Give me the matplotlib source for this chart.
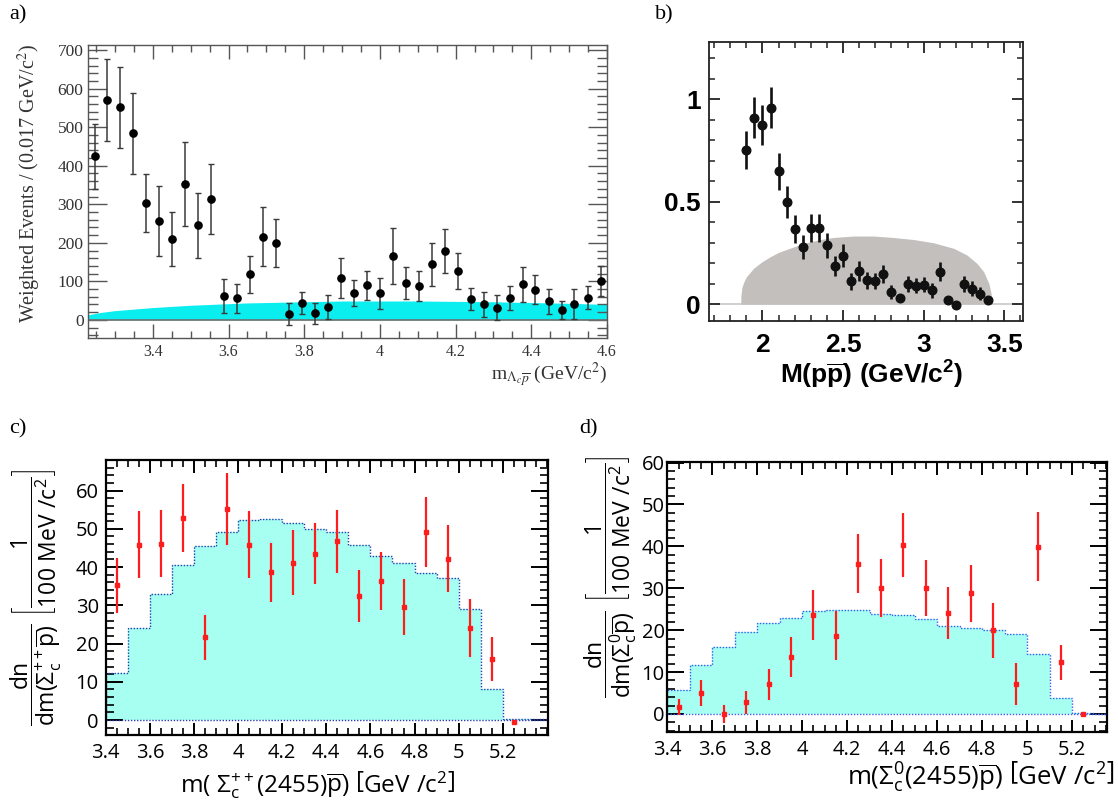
import matplotlib
matplotlib.use("Agg")
import matplotlib.pyplot as plt
from matplotlib.ticker import MultipleLocator, FixedLocator, FuncFormatter

plt.rcParams['mathtext.fontset'] = 'custom'
plt.rcParams['mathtext.rm'] = 'Open Sans'
plt.rcParams['mathtext.it'] = 'Open Sans:italic'
plt.rcParams['mathtext.bf'] = 'Liberation Sans:bold'
plt.rcParams['mathtext.sf'] = 'Open Sans'

# ---------------- data ----------------
# panel a
a_x = [3.246, 3.280, 3.314, 3.348, 3.383, 3.417, 3.451, 3.486, 3.520, 3.554,
       3.589, 3.623, 3.657, 3.691, 3.726, 3.760, 3.794, 3.829, 3.863, 3.897,
       3.931, 3.966, 4.000, 4.034, 4.069, 4.103, 4.137, 4.171, 4.206, 4.240,
       4.274, 4.309, 4.343, 4.377, 4.411, 4.446, 4.480, 4.514, 4.549, 4.583]
a_y = [424, 571, 552, 484, 303, 257, 211, 353, 245, 314,
       62, 56, 118, 216, 199, 16, 44, 17, 34, 109,
       70, 90, 69, 166, 95, 88, 144, 178, 127, 55,
       40, 32, 57, 92, 78, 48, 26, 41, 58, 101]
a_err = [85, 106, 105, 105, 76, 90, 70, 109, 84, 90,
         45, 37, 49, 77, 63, 29, 29, 28, 31, 52,
         34, 38, 40, 73, 42, 38, 55, 57, 47, 29,
         32, 33, 31, 46, 38, 33, 24, 39, 29, 39]
a_bkg_x = [3.228, 3.26, 3.30, 3.35, 3.40, 3.45, 3.50, 3.55, 3.60, 3.65, 3.70,
           3.75, 3.80, 3.85, 3.90, 4.00, 4.10, 4.20, 4.30, 4.40, 4.50, 4.60]
a_bkg_y = [13, 19, 24, 28, 32, 35, 38, 40, 42, 44, 45,
           46, 47, 48, 49, 49, 49, 48, 47, 45, 43, 40]

# panel b
b_x = [1.90, 1.95, 2.00, 2.05, 2.10, 2.15, 2.20, 2.25, 2.30, 2.35, 2.40,
       2.45, 2.50, 2.55, 2.60, 2.65, 2.70, 2.75, 2.80, 2.85, 2.90, 2.95,
       3.00, 3.05, 3.10, 3.15, 3.20, 3.25, 3.30, 3.35, 3.40]
b_y = [0.751, 0.909, 0.872, 0.959, 0.647, 0.498, 0.366, 0.278, 0.372, 0.372, 0.286,
       0.187, 0.236, 0.112, 0.163, 0.117, 0.112, 0.146, 0.057, 0.031, 0.099, 0.089,
       0.094, 0.067, 0.159, 0.018, -0.003, 0.099, 0.076, 0.050, 0.018]
b_err = [0.094, 0.100, 0.097, 0.100, 0.088, 0.078, 0.068, 0.060, 0.068, 0.068, 0.060,
         0.050, 0.057, 0.042, 0.049, 0.041, 0.040, 0.043, 0.034, 0.020, 0.038, 0.036,
         0.036, 0.037, 0.046, 0.015, 0.012, 0.038, 0.035, 0.031, 0.012]
b_ps_x = [1.865, 1.866, 1.872, 1.885, 1.90, 1.944, 1.996, 2.048, 2.099, 2.151, 2.255,
          2.358, 2.44, 2.565, 2.69, 2.81, 2.938, 3.062, 3.186, 3.269, 3.331, 3.372,
          3.404, 3.418, 3.426]
b_ps_y = [0.0, 0.04, 0.08, 0.11, 0.133, 0.174, 0.206, 0.231, 0.252, 0.267, 0.296,
          0.315, 0.325, 0.332, 0.332, 0.325, 0.315, 0.299, 0.272, 0.239, 0.198, 0.158,
          0.101, 0.052, 0.0]

# panels c, d
cd_x = [3.45, 3.55, 3.65, 3.75, 3.85, 3.95, 4.05, 4.15, 4.25, 4.35,
        4.45, 4.55, 4.65, 4.75, 4.85, 4.95, 5.05, 5.15, 5.25]
hist_edges = [3.4, 3.5, 3.6, 3.7, 3.8, 3.9, 4.0, 4.1, 4.2, 4.3, 4.4,
              4.5, 4.6, 4.7, 4.8, 4.9, 5.0, 5.1, 5.2, 5.3, 5.4]
c_y = [35.2, 45.9, 46.1, 52.8, 21.6, 55.2, 45.9, 38.6, 41.2, 43.5,
       46.7, 32.5, 36.3, 29.6, 49.1, 42.2, 24.0, 16.0, -0.4]
c_err = [7.1, 8.7, 8.7, 8.8, 5.9, 9.5, 8.7, 7.8, 8.4, 8.0,
         8.2, 6.8, 7.6, 7.3, 9.1, 8.8, 7.6, 5.8, 0.2]
c_hist = [12.2, 24.2, 32.9, 40.5, 45.6, 49.1, 52.3, 52.7, 51.5, 50.0,
          49.3, 45.9, 42.9, 41.2, 38.4, 37.2, 29.1, 8.1, 0.4, 0.2]
d_y = [1.7, 4.9, 0.0, 2.8, 7.1, 13.6, 23.6, 18.7, 35.9, 30.1,
       40.3, 30.0, 24.1, 28.8, 20.0, 7.1, 39.9, 12.3, 0.0]
d_err = [1.9, 3.1, 2.2, 2.8, 3.75, 4.7, 6.0, 5.9, 7.1, 7.0,
         7.6, 6.7, 6.2, 6.8, 6.6, 5.0, 8.2, 4.1, 0.3]
d_hist = [5.7, 11.7, 16.1, 19.6, 21.8, 23.0, 24.6, 24.7, 24.8, 23.8,
          23.5, 22.6, 21.0, 20.4, 20.0, 19.1, 14.2, 3.9, 0.15, 0.1]

a_xticks = [3.4, 3.6, 3.8, 4.0, 4.2, 4.4, 4.6]
a_yticks = [0, 100, 200, 300, 400, 500, 600, 700]
b_xticks = [2.0, 2.5, 3.0, 3.5]
b_yticks = [0.0, 0.5, 1.0]
cd_xticks = [3.4, 3.6, 3.8, 4.0, 4.2, 4.4, 4.6, 4.8, 5.0, 5.2]
cd_yticks = [0, 10, 20, 30, 40, 50, 60]

# ---------------- figure ----------------
W, H = 1118, 805
fig = plt.figure(figsize=(W / 100, H / 100), dpi=100)


def rect(l, r, t, b):
    return [l / W, 1 - b / H, (r - l) / W, (b - t) / H]


fmt_g = FuncFormatter(lambda v, p: f"{v:g}")

# ---------- panel a ----------
serif = 'Liberation Serif'
axa = fig.add_axes(rect(87.7, 607, 44.7, 338))
axa.fill_between(a_bkg_x, 0, a_bkg_y, color='#0aeef0', lw=0, zorder=1)
axa.axhline(0, color='#707070', lw=1.2, zorder=2)
axa.errorbar(a_x, a_y, yerr=a_err, fmt='o', ms=5.2, color='black',
             ecolor='#3a3a3a', elinewidth=1.1, capsize=2.2, capthick=1.0, zorder=3)
axa.set_xlim(3.228, 4.6)
axa.set_ylim(-47, 714)
axa.xaxis.set_major_locator(FixedLocator(a_xticks))
axa.yaxis.set_major_locator(FixedLocator(a_yticks))
axa.xaxis.set_minor_locator(MultipleLocator(0.05))
axa.yaxis.set_minor_locator(MultipleLocator(20))
axa.xaxis.set_major_formatter(fmt_g)
axa.tick_params(which='both', direction='in', top=True, right=True, color='#555555')
axa.tick_params(axis='y', which='major', length=14, width=1.0, pad=3)
axa.tick_params(axis='y', which='minor', length=7, width=1.0)
axa.tick_params(axis='x', which='major', length=10, width=1.0, pad=4)
axa.tick_params(axis='x', which='minor', length=5, width=1.0)
for lab in axa.get_yticklabels():
    lab.set_fontfamily(serif)
    lab.set_fontsize(12.5)
    lab.set_color('#333333')
for lab in axa.get_xticklabels():
    lab.set_fontfamily(serif)
    lab.set_fontsize(11.5)
    lab.set_color('#333333')
for s in axa.spines.values():
    s.set_color('#555555')
    s.set_linewidth(1.0)
fig.text(29 / W, 1 - 44 / H, 'Weighted Events / (0.017 GeV/c$^{2}$)', rotation=90,
         ha='center', va='top', fontsize=14.5, family=serif, color='#333333',
         math_fontfamily='stix')
fig.text(607 / W, 1 - 380 / H, r'm$_{\Lambda_{c}\overline{p}}$ (GeV/c$^{2}$)',
         ha='right', va='baseline', fontsize=14, family=serif, color='#333333',
         math_fontfamily='stix')
fig.text(18 / W, 1 - 15 / H, 'a)', ha='center', va='center', fontsize=16, family=serif)

# ---------- panel b ----------
sansb = 'Liberation Sans'
axb = fig.add_axes(rect(709.3, 1023, 41.7, 320.7))
axb.hlines(0, 1.72, 3.59, color='#c8c8c8', lw=1.2, zorder=1)
axb.fill_between(b_ps_x, 0, b_ps_y, color='#c3bfbd', lw=0, zorder=1)
axb.errorbar(b_x, b_y, yerr=b_err, fmt='o', ms=6.2, color='#111111',
             ecolor='#111111', elinewidth=1.9, capsize=0, zorder=3)
axb.set_xlim(1.67, 3.616)
axb.set_ylim(-0.081, 1.28)
axb.xaxis.set_major_locator(FixedLocator(b_xticks))
axb.yaxis.set_major_locator(FixedLocator(b_yticks))
axb.xaxis.set_minor_locator(MultipleLocator(0.1))
axb.yaxis.set_minor_locator(MultipleLocator(0.1))
axb.xaxis.set_major_formatter(fmt_g)
axb.yaxis.set_major_formatter(fmt_g)
axb.tick_params(which='both', direction='in', top=True, right=True, color='#222222')
axb.tick_params(which='major', length=8, width=1.3)
axb.tick_params(which='minor', length=4.5, width=1.1)
axb.tick_params(axis='y', which='major', pad=6)
axb.tick_params(axis='x', which='major', pad=9)
for lab in axb.get_xticklabels() + axb.get_yticklabels():
    lab.set_fontfamily(sansb)
    lab.set_fontweight('bold')
    lab.set_fontsize(19)
for s in axb.spines.values():
    s.set_color('#222222')
    s.set_linewidth(1.3)
fig.text(872 / W, 1 - 375 / H, r'M(p$\mathbf{\overline{p}}$) (GeV/c$^{\mathbf{2}}$)',
         ha='center', va='center', fontsize=19, family=sansb, fontweight='bold')
fig.text(664 / W, 1 - 15 / H, 'b)', ha='center', va='center', fontsize=16, family=serif)


# ---------- panels c, d ----------
def style_cd(ax, xlim, ylim, ypad):
    ax.set_xlim(*xlim)
    ax.set_ylim(*ylim)
    ax.xaxis.set_major_locator(FixedLocator(cd_xticks))
    ax.yaxis.set_major_locator(FixedLocator(cd_yticks))
    ax.xaxis.set_minor_locator(MultipleLocator(0.05))
    ax.yaxis.set_minor_locator(MultipleLocator(2))
    ax.xaxis.set_major_formatter(fmt_g)
    ax.tick_params(which='both', direction='in', top=True, right=True, color='black')
    ax.tick_params(axis='y', which='major', length=12, width=1.4, pad=ypad)
    ax.tick_params(axis='y', which='minor', length=6, width=1.2)
    ax.tick_params(axis='x', which='major', length=9, width=1.4, pad=6)
    ax.tick_params(axis='x', which='minor', length=5, width=1.2)
    for lab in ax.get_xticklabels() + ax.get_yticklabels():
        lab.set_fontfamily('Open Sans')
        lab.set_fontsize(14.5)
    for s in ax.spines.values():
        s.set_linewidth(1.6)


def draw_cd(ax, vals, ys, errs, edge_color):
    ax.stairs(vals, hist_edges, fill=True, color='#a6fff0', lw=0, zorder=1)
    ax.stairs(vals, hist_edges, baseline=0, fill=False, color=edge_color, lw=1.0,
              ls=(0, (1, 1.2)), zorder=2)
    ax.hlines(0, hist_edges[0], hist_edges[-1], color=edge_color, lw=1.0,
              ls=(0, (1, 1.2)), zorder=2)
    ax.errorbar(cd_x, ys, yerr=errs, fmt='s', ms=2.6, color='#ff1c1c',
                ecolor='#ff1c1c', elinewidth=1.6, capsize=0, zorder=3)


axc = fig.add_axes(rect(105.7, 548, 460, 735))
draw_cd(axc, c_hist, c_y, c_err, '#2a3cb0')
style_cd(axc, (3.4, 5.405), (-3.9, 68), 5)
fig.text(36 / W, 1 - 597 / H,
         r'$\dfrac{\mathrm{dn}}{\mathrm{dm}(\Sigma_{\mathrm{c}}^{++}\overline{\mathrm{p}})}\ '
         r'\left[\dfrac{1}{100\ \mathrm{MeV}\ /\mathrm{c}^{2}}\right]$',
         rotation=90, ha='center', va='center', fontsize=16.5)
fig.text(318 / W, 1 - 785 / H,
         r'$\mathrm{m}(\ \Sigma_{\mathrm{c}}^{++}(2455)\overline{\mathrm{p}})\ '
         r'\left[\mathrm{GeV}\ /\mathrm{c}^{2}\right]$',
         ha='center', va='center', fontsize=17.5)
fig.text(18 / W, 1 - 429 / H, 'c)', ha='center', va='center', fontsize=16, family=serif)

axd = fig.add_axes(rect(667.3, 1107, 461.7, 732))
draw_cd(axd, d_hist, d_y, d_err, '#3a5cf0')
style_cd(axd, (3.4, 5.355), (-4.3, 60.2), 2)
fig.text(611 / W, 1 - 577 / H,
         r'$\dfrac{\mathrm{dn}}{\mathrm{dm}(\Sigma_{\mathrm{c}}^{0}\overline{\mathrm{p}})}\ '
         r'\left[\dfrac{1}{100\ \mathrm{MeV}\ /\mathrm{c}^{2}}\right]$',
         rotation=90, ha='center', va='center', fontsize=16.5)
fig.text(1115 / W, 1 - 776 / H,
         r'$\mathrm{m}(\Sigma_{\mathrm{c}}^{0}(2455)\overline{\mathrm{p}})\ '
         r'\left[\mathrm{GeV}\ /\mathrm{c}^{2}\right]$',
         ha='right', va='center', fontsize=18.5)
fig.text(589 / W, 1 - 429 / H, 'd)', ha='center', va='center', fontsize=16, family=serif)

fig.savefig('out.png', dpi=100)
